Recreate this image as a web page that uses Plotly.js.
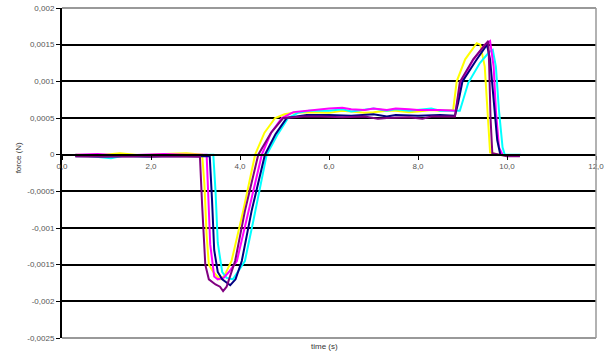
<!DOCTYPE html>
<html>
<head>
<meta charset="utf-8">
<script src="https://cdn.plot.ly/plotly-3.0.1.min.js"></script>
<style>html,body{margin:0;padding:0;background:#fff}#chart{width:606px;height:360px}</style>
</head>
<body>
<div id="chart"></div>
<script>
// Series data (time in s, force in N)
const yellowT = [0.3,0.8,1.3,1.8,2.3,2.8,3.15,3.2,3.25,3.3,3.4,3.55,3.65,3.81,4.07,4.34,4.55,4.79,5.0,5.2,5.6,6.0,6.3,6.5,6.8,7.0,7.3,7.5,7.8,8.0,8.3,8.5,8.79,8.87,9.06,9.32,9.4,9.5,9.56,9.62,9.8,10.0,10.29];
const yellowF = [0,-0.00001,0.00002,-0.00001,0.00001,0.00002,0,-0.0004,-0.0011,-0.0015,-0.0016,-0.0017,-0.00165,-0.00145,-0.00077,0,0.0003,0.0005,0.00055,0.00057,0.00058,0.00057,0.0006,0.00059,0.00057,0.00058,0.0006,0.0006,0.00058,0.00059,0.00061,0.0006,0.00061,0.001,0.0013,0.00152,0.0015,0.0012,0.0006,0.00003,0,-0.00001,-0.00001];

const cyanT = [0.3,0.9,1.1,1.4,1.9,2.4,2.9,3.4,3.45,3.5,3.6,3.7,3.84,3.95,4.11,4.3,4.6,4.85,5.08,5.3,5.55,6.0,6.3,6.5,6.8,7.0,7.3,7.5,7.8,8.0,8.3,8.5,8.94,9.13,9.39,9.6,9.68,9.75,9.82,9.9,9.95,10.3];
const cyanF = [0,-0.00004,-0.00005,-0.00001,-0.00003,-0.00001,0,0,-0.0005,-0.0012,-0.0016,-0.00168,-0.0017,-0.0016,-0.00145,-0.0009,0,0.00028,0.0005,0.00057,0.0006,0.0006,0.00062,0.00059,0.00061,0.00063,0.0006,0.00062,0.0006,0.00061,0.00063,0.0006,0.0006,0.00098,0.00125,0.0014,0.00143,0.0012,0.0006,0.0001,0,0];

const magentaT = [0.3,0.8,1.3,1.8,2.3,2.8,3.25,3.29,3.33,3.42,3.5,3.63,3.75,3.93,4.19,4.49,4.7,4.94,5.2,5.5,6.0,6.3,6.5,6.8,7.0,7.3,7.5,7.8,8.0,8.5,8.85,8.97,9.25,9.5,9.62,9.7,9.75,9.82,9.9,10.29];
const magentaF = [0,0.00001,-0.00001,0,0.00001,0,0,-0.0006,-0.00122,-0.00166,-0.0017,-0.00168,-0.0016,-0.00145,-0.00077,0,0.0003,0.0005,0.00058,0.0006,0.00063,0.00064,0.00062,0.00061,0.00063,0.00061,0.00063,0.00062,0.00061,0.00061,0.0006,0.001,0.0013,0.0015,0.00155,0.0012,0.0006,0.0001,0,-0.00001];

const navyT = [0.3,0.9,1.5,2.0,2.5,3.0,3.32,3.37,3.42,3.5,3.6,3.78,3.9,4.04,4.26,4.56,4.8,5.05,5.3,5.5,6.0,6.5,7.0,7.3,7.5,8.0,8.5,8.83,8.9,9.0,9.3,9.55,9.62,9.7,9.78,9.85,10.29];
const navyF = [-0.00002,-0.00002,-0.00001,-0.00002,-0.00002,-0.00002,-0.00002,-0.0006,-0.0013,-0.0016,-0.0017,-0.00178,-0.0017,-0.00145,-0.00077,0,0.00028,0.0005,0.00052,0.00054,0.00054,0.00053,0.00055,0.00052,0.00054,0.00053,0.00054,0.00053,0.0007,0.001,0.00128,0.0015,0.0013,0.0007,0.0002,0,-0.00001];

const purpleT = [0.3,0.9,1.5,2.0,2.5,3.0,3.1,3.15,3.22,3.3,3.45,3.55,3.62,3.7,3.89,4.11,4.41,4.7,4.97,5.2,5.42,5.8,6.3,6.8,7.1,7.3,7.8,8.1,8.3,8.83,8.94,9.24,9.5,9.58,9.6,9.63,9.67,10.0,10.29];
const purpleF = [-0.00002,-0.00003,-0.00002,-0.00003,-0.00002,-0.00003,-0.00003,-0.0007,-0.0015,-0.0017,-0.00177,-0.0018,-0.00186,-0.0018,-0.00145,-0.00077,0,0.0003,0.0005,0.00051,0.00052,0.00052,0.00051,0.00052,0.00049,0.0005,0.00051,0.00049,0.00052,0.00052,0.00099,0.0013,0.00148,0.00155,0.0012,0.0005,0.00002,-0.00002,-0.00002];

// Tick labels
const xTickVals = [0,2,4,6,8,10,12];
const xTickText = ['0,0','2,0','4,0','6,0','8,0','10,0','12,0'];
const yTickVals = [0.002,0.0015,0.001,0.0005,0,-0.0005,-0.001,-0.0015,-0.002,-0.0025];
const yTickText = ['0,002','0,0015','0,001','0,0005','0','-0,0005','-0,001','-0,0015','-0,002','-0,0025'];

const series = [
  {t: yellowT, f: yellowF, color: '#ffff00'},
  {t: cyanT, f: cyanF, color: '#00ffff'},
  {t: magentaT, f: magentaF, color: '#ff00ff'},
  {t: navyT, f: navyF, color: '#000080'},
  {t: purpleT, f: purpleF, color: '#800080'}
];

const traces = series.map(s => ({
  x: s.t, y: s.f, type: 'scatter', mode: 'lines',
  line: {color: s.color, width: 2}, showlegend: false, hoverinfo: 'skip'
}));

const yMin = -0.0025, yMax = 0.002;
const tickFont = {family: 'Liberation Sans, Arial, sans-serif', size: 8, color: '#555'};

const layout = {
  width: 606, height: 360,
  margin: {l: 62, r: 10, t: 8, b: 22},
  paper_bgcolor: '#fff', plot_bgcolor: '#fff',
  showlegend: false,
  xaxis: {
    range: [0, 12], anchor: 'free', position: (0 - yMin) / (yMax - yMin),
    tickmode: 'array', tickvals: xTickVals, ticktext: xTickText,
    showgrid: false, zeroline: false,
    showline: true, linecolor: '#000', linewidth: 2,
    ticks: 'outside', ticklen: 4, tickcolor: '#000', tickwidth: 1,
    tickfont: tickFont, fixedrange: true
  },
  yaxis: {
    range: [yMin, yMax], domain: [0, 1],
    tickmode: 'array', tickvals: yTickVals, ticktext: yTickText,
    showgrid: true, gridcolor: '#000', gridwidth: 2,
    zeroline: false,
    showline: true, linecolor: '#000', linewidth: 2,
    ticks: 'outside', ticklen: 4, tickcolor: '#000', tickwidth: 1,
    tickfont: tickFont, fixedrange: true
  },
  shapes: [
    {type: 'line', xref: 'paper', yref: 'paper', x0: 0, x1: 1, y0: 1, y1: 1, line: {color: '#999', width: 2}},
    {type: 'line', xref: 'paper', yref: 'paper', x0: 0, x1: 1, y0: 0, y1: 0, line: {color: '#999', width: 2}},
    {type: 'line', xref: 'paper', yref: 'paper', x0: 1, x1: 1, y0: 0, y1: 1, line: {color: '#999', width: 1.5}}
  ],
  annotations: [
    {text: 'force (N)', xref: 'paper', yref: 'paper', x: -0.082, y: 0.545, textangle: -90,
     showarrow: false, xanchor: 'center', yanchor: 'middle',
     font: {family: 'Liberation Sans, Arial, sans-serif', size: 8, color: '#333'}},
    {text: 'time (s)', xref: 'paper', yref: 'paper', x: 0.4925, y: -0.026,
     showarrow: false, xanchor: 'center', yanchor: 'middle',
     font: {family: 'Liberation Sans, Arial, sans-serif', size: 8, color: '#333'}}
  ]
};

Plotly.newPlot('chart', traces, layout, {staticPlot: true, displayModeBar: false});
</script>
</body>
</html>
